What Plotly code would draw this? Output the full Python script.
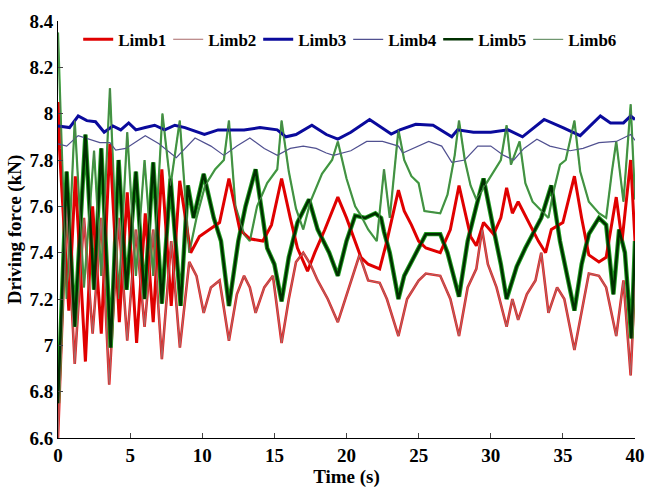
import plotly.graph_objects as go

# ---------------- data ----------------
t1 = [0, 0.1, 0.75, 1.2, 1.9, 2.4, 3.0, 3.6, 4.25, 4.8, 5.45, 6.05, 6.6, 7.2, 7.85, 8.44,
      9.2, 9.8, 10.5, 11.2, 11.85, 12.6, 13.3, 14.2, 14.8, 15.5, 16.1, 16.6, 17.3, 17.8,
      18.5, 19.4, 20.0, 20.6, 21.0, 21.5, 22.3, 22.8, 23.6, 24.0, 24.5, 25.0, 25.5, 26.5,
      27.2, 27.8, 28.6, 29.0, 29.5, 30.2, 30.7, 31.1, 31.5, 31.9, 32.7, 33.3, 33.8, 34.2,
      35.0, 35.8, 36.3, 36.8, 37.5, 38.0, 38.7, 39.1, 39.7, 40]
limb1 = [8.05, 7.85, 7.15, 7.73, 6.93, 7.60, 7.05, 7.87, 7.10, 7.66, 7.01, 7.57, 7.10, 7.76, 7.17, 7.71,
         7.40, 7.47, 7.50, 7.53, 7.72, 7.50, 7.46, 7.45, 7.52, 7.72, 7.55, 7.42, 7.32, 7.40,
         7.50, 7.64, 7.55, 7.45, 7.38, 7.35, 7.33, 7.45, 7.67, 7.58, 7.52, 7.45, 7.42, 7.40,
         7.50, 7.69, 7.47, 7.43, 7.53, 7.48, 7.55, 7.68, 7.57, 7.62, 7.52, 7.45, 7.40, 7.50,
         7.53, 7.73, 7.55, 7.39, 7.36, 7.38, 7.64, 7.45, 7.80, 7.45]

t2 = [0, 0.6, 1.16, 1.8, 2.4, 3.0, 3.55, 4.2, 4.8, 5.4, 6.0, 6.6, 7.2, 7.85, 8.45, 9.1,
      9.6, 10.1, 10.6, 11.2, 11.85, 12.4, 12.9, 13.3, 13.7, 14.3, 14.9, 15.5, 16.0, 16.5,
      17.0, 17.5, 18.0, 18.7, 19.4, 20.2, 20.9, 21.5, 22.3, 22.8, 23.6, 24.2, 25.0, 25.5,
      26.5, 27.2, 27.8, 28.4, 29.0, 29.4, 29.8, 30.4, 31.1, 31.5, 31.9, 32.5, 33.1, 33.5,
      34.0, 34.6, 35.1, 35.8, 36.3, 36.8, 37.5, 38.0, 38.7, 39.2, 39.7, 40]
limb2 = [6.60, 7.60, 6.92, 7.55, 7.05, 7.55, 6.83, 7.55, 7.02, 7.50, 7.08, 7.50, 6.94, 7.45, 6.99, 7.36,
         7.30, 7.14, 7.25, 7.28, 7.02, 7.22, 7.30, 7.25, 7.14, 7.25, 7.30, 7.01, 7.20, 7.36,
         7.40, 7.35, 7.28, 7.20, 7.10, 7.25, 7.39, 7.28, 7.27, 7.20, 7.04, 7.20, 7.28, 7.31,
         7.30, 7.20, 7.04, 7.25, 7.33, 7.50, 7.35, 7.25, 7.08, 7.20, 7.11, 7.22, 7.28, 7.40,
         7.14, 7.25, 7.20, 6.98, 7.15, 7.31, 7.30, 7.25, 7.04, 7.28, 6.87, 7.28]

t3 = [0, 0.8, 1.4, 2.0, 2.6, 3.2, 3.8, 4.35, 4.9, 5.4, 6.05, 6.7, 7.4, 8.1, 8.8, 10.15,
      11.1, 12.0, 12.9, 14.0, 15.2, 15.8, 16.5, 17.6, 18.6, 19.4, 20.3, 21.6, 23.1, 23.7,
      24.8, 26.0, 27.3, 27.7, 28.8, 30.0, 31.2, 32.2, 33.7, 35.0, 36.2, 37.6, 38.3, 39.2,
      39.7, 40]
limb3 = [7.947, 7.94, 7.99, 7.97, 7.965, 7.92, 7.947, 7.93, 7.96, 7.93, 7.94, 7.95, 7.93, 7.95, 7.94, 7.91,
         7.93, 7.93, 7.93, 7.94, 7.93, 7.90, 7.91, 7.95, 7.91, 7.89, 7.92, 7.975, 7.912, 7.93,
         7.954, 7.95, 7.90, 7.93, 7.92, 7.92, 7.93, 7.90, 7.975, 7.94, 7.905, 7.99, 7.96, 7.96,
         7.99, 7.975]

t4 = [0, 0.6, 1.4, 2.1, 2.9, 3.6, 4.0, 4.7, 6.05, 7.0, 8.2, 9.5, 10.6, 11.5, 12.4, 13.3,
      14.3, 15.2, 16.1, 17.0, 17.9, 18.6, 19.1, 20.3, 21.4, 22.5, 23.6, 23.9, 25.7, 26.6,
      27.3, 28.2, 29.1, 30.0, 30.9, 31.6, 32.3, 33.2, 34.1, 35.5, 36.4, 37.5, 38.7, 39.7, 40]
limb4 = [7.87, 7.86, 7.905, 7.89, 7.875, 7.875, 7.843, 7.85, 7.905, 7.87, 7.81, 7.895, 7.86, 7.82, 7.86, 7.895,
         7.85, 7.82, 7.85, 7.86, 7.85, 7.83, 7.82, 7.84, 7.88, 7.88, 7.86, 7.83, 7.88, 7.86,
         7.79, 7.80, 7.86, 7.86, 7.82, 7.80, 7.85, 7.89, 7.86, 7.84, 7.85, 7.875, 7.88, 7.91, 7.885]

t5 = [0, 0.6, 1.16, 1.9, 2.5, 3.0, 3.65, 4.2, 4.75, 5.4, 6.0, 6.6, 7.2, 7.8, 8.5, 9.0,
      9.4, 10.1, 10.8, 11.3, 11.85, 12.5, 13.0, 13.7, 14.2, 14.5, 15.0, 15.5, 16.0, 16.6,
      17.4, 18.0, 18.8, 19.4, 20.0, 20.6, 21.3, 22.0, 22.4, 22.6, 23.0, 23.6, 24.0, 24.5,
      25.0, 25.5, 26.5, 27.0, 27.8, 28.4, 29.0, 29.5, 30.2, 30.7, 31.1, 31.8, 32.4, 32.9,
      33.5, 34.2, 34.8, 35.8, 36.3, 36.8, 37.5, 38.0, 38.5, 38.9, 39.3, 39.75, 40]
limb5 = [6.75, 7.75, 7.08, 7.91, 7.24, 7.85, 6.99, 7.80, 7.24, 7.75, 7.20, 7.79, 7.18, 7.72, 7.17, 7.69,
         7.55, 7.74, 7.55, 7.45, 7.17, 7.45, 7.60, 7.76, 7.55, 7.42, 7.35, 7.19, 7.38, 7.53,
         7.63, 7.50, 7.40, 7.30, 7.45, 7.56, 7.55, 7.57, 7.55, 7.49, 7.40, 7.20, 7.30, 7.36,
         7.42, 7.48, 7.48, 7.40, 7.21, 7.45, 7.60, 7.72, 7.50, 7.35, 7.20, 7.34, 7.42, 7.48,
         7.55, 7.69, 7.45, 7.15, 7.35, 7.48, 7.55, 7.52, 7.22, 7.50, 7.40, 7.03, 7.45]

t6 = [0, 0.6, 1.16, 1.8, 2.5, 3.0, 3.6, 4.2, 4.8, 5.4, 6.0, 6.6, 7.24, 7.8, 8.44, 9.1,
      9.6, 10.2, 10.9, 11.5, 11.85, 12.3, 12.9, 13.3, 13.8, 14.5, 15.2, 15.5, 16.0, 16.5,
      17.0, 17.5, 18.3, 19.0, 19.4, 20.0, 20.6, 21.0, 21.5, 22.1, 22.6, 23.0, 23.6, 24.0,
      24.5, 25.0, 25.4, 26.5, 27.0, 27.5, 27.8, 28.2, 28.6, 29.0, 29.5, 30.2, 30.7, 31.1,
      31.4, 32.0, 32.4, 32.9, 33.5, 34.0, 34.3, 34.8, 35.2, 35.8, 36.2, 36.8, 37.5, 38.0,
      38.4, 38.7, 39.2, 39.7, 40]
limb6 = [8.35, 7.20, 7.97, 7.25, 7.84, 7.30, 8.11, 7.20, 7.92, 7.30, 7.80, 7.30, 8.00, 7.69, 7.97, 7.40,
         7.55, 7.69, 7.76, 7.80, 7.97, 7.60, 7.48, 7.45, 7.60, 7.70, 7.76, 7.97, 7.75, 7.59,
         7.50, 7.62, 7.74, 7.80, 7.88, 7.72, 7.60, 7.56, 7.50, 7.45, 7.76, 7.55, 7.93, 7.80,
         7.73, 7.70, 7.58, 7.57, 7.65, 7.82, 7.97, 7.80, 7.69, 7.63, 7.68, 7.75, 7.80, 7.95,
         7.78, 7.88, 7.70, 7.62, 7.58, 7.55, 7.65, 7.78, 7.80, 7.97, 7.75, 7.62, 7.57, 7.55,
         7.75, 7.88, 7.62, 8.04, 7.63]

x_ticks = [0, 5, 10, 15, 20, 25, 30, 35, 40]
y_ticks = [6.6, 6.8, 7.0, 7.2, 7.4, 7.6, 7.8, 8.0, 8.2, 8.4]
y_labels = ["6.6", "6.8", "7", "7.2", "7.4", "7.6", "7.8", "8", "8.2", "8.4"]

FONT = "Liberation Serif"
FS = 19

fig = go.Figure()

# under-strokes giving the fuzzy look of the noisy traces
fig.add_trace(go.Scatter(x=t2, y=limb2, mode="lines", showlegend=False, hoverinfo="skip",
                         line=dict(color="#e82020", width=2.6)))
fig.add_trace(go.Scatter(x=t5, y=limb5, mode="lines", showlegend=False, hoverinfo="skip",
                         line=dict(color="#22a022", width=4.4)))
fig.add_trace(go.Scatter(x=t6, y=limb6, mode="lines", showlegend=False, hoverinfo="skip",
                         line=dict(color="#38a838", width=2.2)))

fig.add_trace(go.Scatter(x=t1, y=limb1, mode="lines", name="Limb1",
                         line=dict(color="#e00000", width=3)))
fig.add_trace(go.Scatter(x=t2, y=limb2, mode="lines", name="Limb2",
                         line=dict(color="#a86868", width=1.1)))
fig.add_trace(go.Scatter(x=t3, y=limb3, mode="lines", name="Limb3",
                         line=dict(color="#0a0a9c", width=3)))
fig.add_trace(go.Scatter(x=t4, y=limb4, mode="lines", name="Limb4",
                         line=dict(color="#505090", width=1.2)))
fig.add_trace(go.Scatter(x=t5, y=limb5, mode="lines", name="Limb5",
                         line=dict(color="#003000", width=2.5)))
fig.add_trace(go.Scatter(x=t6, y=limb6, mode="lines", name="Limb6",
                         line=dict(color="#4f7f4f", width=1.0)))

fig.update_layout(
    width=655, height=489,
    margin=dict(l=58, r=10, t=21, b=41),
    paper_bgcolor="white", plot_bgcolor="white",
    font=dict(family=FONT, size=FS, color="black", weight="bold"),
    legend=dict(orientation="h", x=0.035, xanchor="left", y=0.955, yanchor="middle",
                bgcolor="rgba(0,0,0,0)", entrywidth=45, entrywidthmode="pixels",
                font=dict(family=FONT, size=17, color="black", weight="bold"),
                itemwidth=30, tracegroupgap=0),
    showlegend=True,
)
fig.update_xaxes(range=[0, 40], tickvals=x_ticks, ticks="inside", ticklen=5,
                 showline=True, linecolor="black", linewidth=1, mirror=False,
                 showgrid=False, zeroline=False,
                 tickfont=dict(family=FONT, size=FS, weight="bold"),
                 title=dict(text="Time (s)", standoff=0,
                            font=dict(family=FONT, size=FS, weight="bold")))
fig.update_yaxes(range=[6.6, 8.4], tickvals=y_ticks, ticktext=y_labels, ticks="inside", ticklen=5,
                 showline=True, linecolor="black", linewidth=1, mirror=False,
                 showgrid=False, zeroline=False,
                 tickfont=dict(family=FONT, size=FS, weight="bold"),
                 title=dict(text="Driving force (kN)", standoff=2,
                            font=dict(family=FONT, size=FS, weight="bold")))

fig.write_html("out.html")
